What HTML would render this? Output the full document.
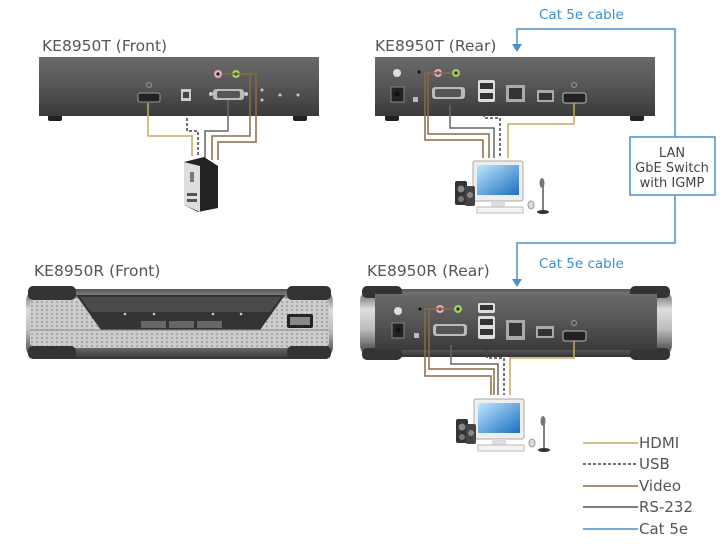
<!DOCTYPE html>
<html><head><meta charset="utf-8"><style>
body{margin:0;background:#fff}
svg{display:block}
text{font-family:"DejaVu Sans","Liberation Sans",sans-serif}
</style></head><body>
<svg width="728" height="546" viewBox="0 0 728 546" xmlns="http://www.w3.org/2000/svg">
<defs>
<linearGradient id="box" x1="0" y1="0" x2="0" y2="1">
<stop offset="0" stop-color="#6a6a6a"/><stop offset="0.5" stop-color="#555"/><stop offset="1" stop-color="#3a3a3a"/></linearGradient>
<linearGradient id="silver" x1="0" y1="0" x2="0" y2="1">
<stop offset="0" stop-color="#555"/><stop offset="0.3" stop-color="#ddd"/><stop offset="0.6" stop-color="#bbb"/><stop offset="1" stop-color="#333"/></linearGradient>
<linearGradient id="scr" x1="0" y1="0" x2="1" y2="1">
<stop offset="0" stop-color="#bfe6ff"/><stop offset="1" stop-color="#1a6fc0"/></linearGradient>
<pattern id="dots" width="5" height="4" patternUnits="userSpaceOnUse"><circle cx="2" cy="2" r="0.8" fill="#444"/></pattern>
<g id="pc">
<rect x="18" y="0" width="50" height="40" rx="2" fill="#eee" stroke="#aaa"/>
<rect x="22" y="4" width="42" height="30" fill="url(#scr)"/>
<rect x="36" y="40" width="14" height="6" fill="#ddd"/>
<rect x="22" y="46" width="46" height="6" fill="#f3f3f3" stroke="#bbb"/>
<rect x="0" y="20" width="12" height="24" rx="2" fill="#333"/><circle cx="6" cy="28" r="3.5" fill="#888"/><circle cx="6" cy="38" r="3" fill="#777"/>
<rect x="10" y="25" width="10" height="20" rx="2" fill="#444"/><circle cx="15" cy="34" r="3" fill="#888"/>
<ellipse cx="76" cy="44" rx="3" ry="4" fill="#ddd" stroke="#999"/>
<line x1="88" y1="22" x2="88" y2="50" stroke="#555" stroke-width="1.5"/><ellipse cx="87" cy="22" rx="2.5" ry="5" fill="#777"/>
<ellipse cx="88" cy="51" rx="6" ry="2" fill="#333"/>
</g>
</defs>

<g font-size="15.5" fill="#555">
<text x="42" y="51">KE8950T (Front)</text>
<text x="375" y="51">KE8950T (Rear)</text>
<text x="34" y="276">KE8950R (Front)</text>
<text x="367" y="276">KE8950R (Rear)</text>
</g>
<g font-size="13.5" fill="#3a8fd0">
<text x="539" y="19">Cat 5e cable</text>
<text x="539" y="268">Cat 5e cable</text>
</g>

<g stroke="#4a90c8" stroke-width="1.5" fill="none">
<polyline points="517,45 517,29 675,29 675,137"/>
<polyline points="675,195 675,243 517,243 517,280"/>
</g>
<polygon points="512,44 522,44 517,52" fill="#4a90c8"/>
<polygon points="512,279 522,279 517,287" fill="#4a90c8"/>
<rect x="630" y="137" width="85" height="58" fill="#fff" stroke="#4a90c8" stroke-width="1.5"/>
<g font-size="13" fill="#444" text-anchor="middle">
<text x="672" y="157">LAN</text><text x="672" y="172">GbE Switch</text><text x="672" y="187">with IGMP</text></g>

<!-- KE8950T Front -->
<rect x="48" y="114" width="14" height="7" rx="2" fill="#222"/><rect x="293" y="114" width="14" height="7" rx="2" fill="#222"/>
<rect x="39" y="57" width="280" height="59" fill="url(#box)"/>
<rect x="138" y="93" width="22" height="9" rx="2" fill="#222" stroke="#999"/>
<circle cx="149" cy="85" r="2.5" fill="none" stroke="#999"/>
<rect x="181" y="89" width="10" height="12" fill="#ccc"/><rect x="183" y="92" width="6" height="6" fill="#444"/>
<rect x="213" y="89" width="31" height="11" rx="3" fill="#bbb"/><circle cx="211" cy="94" r="2" fill="#ccc"/><circle cx="246" cy="94" r="2" fill="#ccc"/>
<rect x="217" y="91" width="23" height="7" rx="2" fill="#555"/>
<circle cx="218" cy="74" r="4" fill="#e6a8c8"/><circle cx="218" cy="74" r="1.6" fill="#222"/>
<circle cx="236" cy="74" r="4" fill="#9ed45a"/><circle cx="236" cy="74" r="1.6" fill="#222"/>
<g fill="#ccc"><circle cx="262" cy="90" r="1.5"/><circle cx="262" cy="100" r="1.5"/><circle cx="280" cy="95" r="1.5"/><circle cx="298" cy="95" r="1.5"/></g>
<g fill="none" stroke-width="1.5">
<polyline points="148,103 148,136 192,136 192,156" stroke="#c8a860"/>
<polyline points="187,118 187,131 198,131 198,155" stroke="#444" stroke-dasharray="3,2"/>
<polyline points="228,100 228,131 205,131 205,158" stroke="#666"/>
<polyline points="222,74 250,74 250,136 212,136 212,160" stroke="#8a6a40"/>
<polyline points="240,74 256,74 256,142 218,142 218,160" stroke="#8a6a40"/>
</g>
<polygon points="184,162 204,157 218,166 218,208 198,212 184,205" fill="#222"/>
<polygon points="184,162 200,166 200,212 184,205" fill="#ddd"/>
<rect x="190" y="172" width="4" height="10" fill="#777"/>
<rect x="187" y="193" width="10" height="3" fill="#555"/><rect x="187" y="199" width="10" height="3" fill="#555"/>

<!-- KE8950T Rear -->
<rect x="385" y="114" width="14" height="7" rx="2" fill="#222"/><rect x="630" y="114" width="14" height="7" rx="2" fill="#222"/>
<rect x="375" y="57" width="280" height="59" fill="url(#box)"/>
<circle cx="397" cy="73" r="4" fill="#ddd"/>
<rect x="391" y="87" width="13" height="15" fill="#222" stroke="#888"/><circle cx="397" cy="94" r="2.5" fill="#111"/>
<circle cx="419" cy="72" r="1.5" fill="#111"/>
<rect x="413" y="97" width="5" height="5" fill="#bbb"/>
<circle cx="438" cy="73" r="4" fill="#e6a8c8"/><circle cx="438" cy="73" r="1.6" fill="#222"/>
<circle cx="456" cy="73" r="4" fill="#9ed45a"/><circle cx="456" cy="73" r="1.6" fill="#222"/>
<rect x="432" y="87" width="33" height="12" rx="3" fill="#bbb"/><rect x="435" y="89" width="26" height="8" rx="2" fill="#555"/>
<rect x="478" y="80" width="17" height="22" rx="2" fill="#ddd"/><rect x="480" y="83" width="13" height="6" fill="#333"/><rect x="480" y="93" width="13" height="6" fill="#333"/>
<rect x="506" y="85" width="19" height="17" fill="#aaa"/><rect x="509" y="88" width="13" height="11" fill="#333"/>
<rect x="537" y="90" width="17" height="12" fill="#aaa"/><rect x="539" y="93" width="13" height="7" fill="#333"/>
<rect x="563" y="93" width="23" height="10" rx="2" fill="#222" stroke="#bbb"/>
<circle cx="574" cy="85" r="2.5" fill="none" stroke="#999"/>
<g fill="none" stroke-width="1.5">
<polyline points="574,103 574,124 508,124 508,158" stroke="#c8a860"/>
<polyline points="484,104 484,118 500,118 500,158" stroke="#444" stroke-dasharray="3,2"/>
<polyline points="450,105 450,128 494,128 494,158" stroke="#666"/>
<polyline points="432,73 425,73 425,140 483,140 483,158" stroke="#8a6a40"/>
<polyline points="452,73 428,73 428,134 489,134 489,158" stroke="#8a6a40"/>
</g>
<use href="#pc" x="455" y="161"/>

<!-- KE8950R Front -->
<rect x="26" y="289" width="307" height="70" rx="12" fill="url(#silver)"/>
<rect x="30" y="298" width="299" height="50" rx="6" fill="#ccc"/>
<rect x="30" y="298" width="299" height="50" rx="6" fill="url(#dots)" opacity="0.6"/>
<rect x="28" y="286" width="48" height="14" rx="5" fill="#333"/>
<rect x="287" y="286" width="44" height="14" rx="5" fill="#333"/>
<rect x="28" y="346" width="48" height="13" rx="5" fill="#333"/>
<rect x="287" y="346" width="44" height="13" rx="5" fill="#333"/>
<polygon points="76,295 285,295 260,330 101,330" fill="#333"/>
<polygon points="80,297 281,297 270,312 91,312" fill="#4a4a4a"/>
<g fill="#ccc"><circle cx="125" cy="314" r="1.3"/><circle cx="154" cy="314" r="1.3"/><circle cx="213" cy="314" r="1.3"/><circle cx="241" cy="314" r="1.3"/></g>
<g fill="#666"><rect x="141" y="321" width="25" height="7"/><rect x="169" y="321" width="25" height="7"/><rect x="197" y="321" width="25" height="7"/></g>
<rect x="287" y="314" width="26" height="14" rx="2" fill="#222"/><rect x="290" y="317" width="20" height="8" fill="#888"/>
<line x1="30" y1="330" x2="329" y2="330" stroke="#888"/>

<!-- KE8950R Rear -->
<rect x="360" y="289" width="312" height="68" rx="12" fill="url(#silver)"/>
<rect x="362" y="286" width="40" height="12" rx="5" fill="#333"/><rect x="630" y="286" width="40" height="12" rx="5" fill="#333"/>
<rect x="362" y="348" width="40" height="12" rx="5" fill="#333"/><rect x="630" y="348" width="40" height="12" rx="5" fill="#333"/>
<rect x="375" y="294" width="282" height="56" fill="url(#box)"/>
<circle cx="398" cy="311" r="4" fill="#ddd"/>
<rect x="392" y="323" width="12" height="15" fill="#222" stroke="#888"/><circle cx="398" cy="330" r="2.5" fill="#111"/>
<circle cx="420" cy="309" r="1.5" fill="#111"/>
<rect x="414" y="333" width="5" height="5" fill="#bbb"/>
<circle cx="440" cy="309" r="4" fill="#e6a8c8"/><circle cx="440" cy="309" r="1.6" fill="#222"/>
<circle cx="458" cy="309" r="4" fill="#9ed45a"/><circle cx="458" cy="309" r="1.6" fill="#222"/>
<rect x="433" y="324" width="34" height="12" rx="3" fill="#bbb"/><rect x="436" y="326" width="28" height="8" rx="2" fill="#555"/>
<rect x="478" y="303" width="17" height="10" rx="2" fill="#ddd"/><rect x="480" y="305" width="13" height="5" fill="#333"/>
<rect x="478" y="316" width="17" height="23" rx="2" fill="#ddd"/><rect x="480" y="319" width="13" height="6" fill="#333"/><rect x="480" y="329" width="13" height="6" fill="#333"/>
<rect x="506" y="320" width="19" height="20" fill="#aaa"/><rect x="509" y="323" width="13" height="13" fill="#333"/>
<rect x="536" y="326" width="18" height="12" fill="#aaa"/><rect x="538" y="329" width="14" height="7" fill="#333"/>
<rect x="563" y="331" width="23" height="10" rx="2" fill="#222" stroke="#bbb"/>
<circle cx="574" cy="323" r="2.5" fill="none" stroke="#999"/>
<g fill="none" stroke-width="1.5">
<polyline points="574,341 574,358 510,358 510,395" stroke="#c8a860"/>
<polyline points="487,350 487,358 504,358 504,395" stroke="#444" stroke-dasharray="3,2"/>
<polyline points="451,345 451,364 498,364 498,395" stroke="#666"/>
<polyline points="436,309 425,309 425,376 491,376 491,395" stroke="#8a6a40"/>
<polyline points="454,309 429,309 429,369 494,369 494,395" stroke="#8a6a40"/>
</g>
<use href="#pc" x="456" y="399"/>

<!-- Legend -->
<g stroke-width="1.5">
<line x1="583" y1="443" x2="638" y2="443" stroke="#c8a860"/>
<line x1="583" y1="464" x2="638" y2="464" stroke="#444" stroke-dasharray="3,2"/>
<line x1="583" y1="486" x2="638" y2="486" stroke="#8a6a40"/>
<line x1="583" y1="507" x2="638" y2="507" stroke="#555"/>
<line x1="583" y1="529" x2="638" y2="529" stroke="#4a90c8"/>
</g>
<g font-size="15" fill="#555">
<text x="639" y="448">HDMI</text><text x="639" y="469">USB</text><text x="639" y="491">Video</text><text x="639" y="512">RS-232</text><text x="639" y="534">Cat 5e</text>
</g>
</svg>
</body></html>
